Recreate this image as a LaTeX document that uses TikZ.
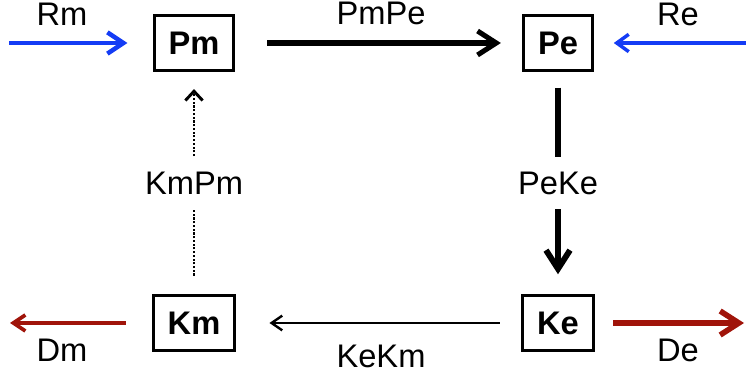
\documentclass[tikz,border=0pt]{standalone}
\usepackage{fontspec}
\setmainfont{Liberation Sans}
\usetikzlibrary{arrows.meta}
\definecolor{inflow}{RGB}{20,60,245}
\definecolor{outflow}{RGB}{160,20,10}
\tikzset{
  species/.style={draw, line width=2.1pt, inner xsep=10.8pt, minimum height=41pt, font=\fontsize{24.5}{29}\selectfont\bfseries},
  lbl/.style={font=\fontsize{24.5}{29}\selectfont, inner sep=0pt},
  barb/.style args={#1/#2}{-{Straight Barb[length=#1,width=#2]}}
}
\begin{document}
\begin{tikzpicture}[x=0.75pt,y=0.75pt,yscale=-1,xscale=1]
\path[use as bounding box] (0,0) rectangle (746,377);

% Species boxes
\node[species] (Pm) at (194,43) {Pm};
\node[species] (Pe) at (558,43) {Pe};
\node[species] (Km) at (194,323) {Km};
\node[species] (Ke) at (558,323) {Ke};

% Free ends of the source and decay arrows
\coordinate (RmSrc) at (9,43);
\coordinate (ReSrc) at (746,43);
\coordinate (DmEnd) at (10,323);
\coordinate (DeEnd) at (744,323);

% Sources
\draw[barb=12pt/16pt, inflow, line width=3.4pt, shorten >=19pt] (RmSrc) -- (Pm);
\draw[barb=9pt/13pt, inflow, line width=2.6pt, shorten >=15pt] (ReSrc) -- (Pe);

% Transfers
\draw[barb=14pt/18pt, line width=3.8pt, shorten <=24pt, shorten >=16pt] (Pm) -- (Pe);
\draw[barb=14pt/18pt, line width=4.4pt, shorten <=12pt, shorten >=15pt] (Pe) -- node[lbl, fill=white, inner ysep=11pt] (PeKeLbl) {PeKe} (Ke);
\draw[barb=8pt/11pt, line width=1.8pt, shorten <=16pt, shorten >=25pt] (Ke) -- (Km);
\draw[barb=7pt/13pt, dash pattern=on 1.6pt off 1.2pt, line width=2.2pt, shorten <=14pt, shorten >=13pt] (Km) -- node[lbl, fill=white, inner ysep=11pt] (KmPmLbl) {KmPm} (Pm);

% Decays
\draw[barb=9pt/12pt, outflow, line width=2.8pt, shorten <=19.5pt] (Km) -- (DmEnd);
\draw[barb=14pt/18pt, outflow, line width=4.2pt, shorten <=14pt] (Ke) -- (DeEnd);

% Text Node
\node[lbl, anchor=base] (RmLbl) at (62,26) {Rm};
% Text Node
\node[lbl, anchor=base] (ReLbl) at (678,26) {Re};
% Text Node
\node[lbl, anchor=base] (PmPeLbl) at (381,25) {PmPe};
% Text Node
\node[lbl, anchor=base] (KeKmLbl) at (381,368) {KeKm};
% Text Node
\node[lbl, anchor=base] (DmLbl) at (62,362) {Dm};
% Text Node
\node[lbl, anchor=base] (DeLbl) at (678,362) {De};

\end{tikzpicture}
\end{document}
